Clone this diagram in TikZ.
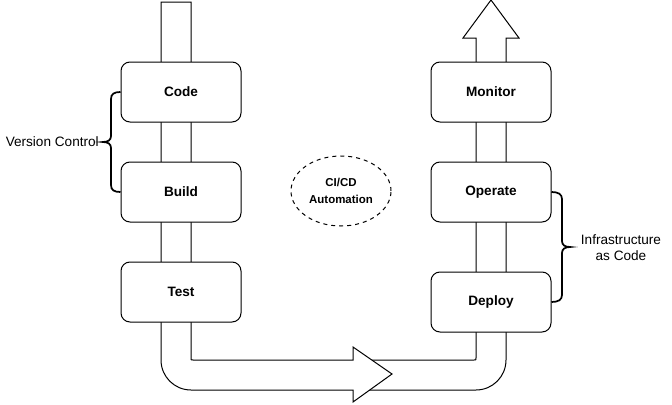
\documentclass[tikz,border=0pt]{standalone}
\usepackage{fontspec}
\setmainfont{Liberation Sans}
\usetikzlibrary{shapes.geometric}
\tikzset{
  stagebox/.style={draw=black, line width=0.75pt, fill=white, rounded corners=6.75pt,
    minimum width=90pt, minimum height=45pt, inner sep=0pt,
    font=\fontsize{10.2}{12}\selectfont\bfseries},
  flow/.style={draw=black, line width=0.75pt, fill=white, line join=miter},
  bracepath/.style={draw=black, line width=1.3pt},
  bracelabel/.style={font=\fontsize{10.2}{12}\selectfont, align=center, inner sep=0pt},
  cloudnote/.style={ellipse, draw=black, dashed, line width=0.75pt, fill=white,
    minimum width=75pt, minimum height=52.5pt, inner sep=0pt, align=center,
    font=\fontsize{8.6}{13}\selectfont\bfseries}
}
\begin{document}
\begin{tikzpicture}[x=0.75pt, y=-0.75pt]
\useasboundingbox (0,0) rectangle (672,404);
% right U-arrow going up
\path[flow] (360,360) -- (474,360) .. controls (476,360) .. (476,358) -- (476,38)
  -- (463,38) -- (491,0) -- (519,38) -- (506,38) -- (506,360)
  .. controls (506,376.6) and (492.6,390) .. (476,390) -- (360,390) -- cycle;
% left shaft bending right with arrow head
\path[flow] (161,2) -- (191,2) -- (191,358) .. controls (191,360) .. (193,360)
  -- (353,360) -- (353,347) -- (392,374) -- (353,402) -- (353,390) -- (191,390)
  .. controls (174.4,390) and (161,376.6) .. (161,360) -- cycle;
% stages
\node[stagebox] (code) at (181,92) {Code};
\node[stagebox] (build) at (181,192) {Build};
\node[stagebox] (test) at (181,292) {Test};
\node[stagebox] (monitor) at (491,92) {Monitor};
\node[stagebox] (operate) at (491,192) {Operate};
\node[stagebox] (deploy) at (491,302) {Deploy};
% centre note
\node[cloudnote] (cicd) at (341,191) {CI/CD\\Automation};
% left brace
\coordinate (vctip) at (103,142);
\path[bracepath] (code.west) .. controls (114,92) and (111,94) .. (111,99) -- (111,136)
  .. controls (111,140) and (108,142) .. (vctip)
  .. controls (108,142) and (111,144) .. (111,148) -- (111,185)
  .. controls (111,190) and (114,192) .. (build.west);
\node[bracelabel, anchor=east] (vc) at (99,142) {Version Control};
% right brace
\coordinate (iactip) at (570,247);
\path[bracepath] (operate.east) .. controls (558,192) and (562,194) .. (562,199) -- (562,241)
  .. controls (562,245) and (565,247) .. (iactip)
  .. controls (565,247) and (562,249) .. (562,253) -- (562,295)
  .. controls (562,300) and (558,302) .. (deploy.east);
\node[bracelabel] (iac) at (621,248) {Infrastructure\\as Code};
\end{tikzpicture}
\end{document}
